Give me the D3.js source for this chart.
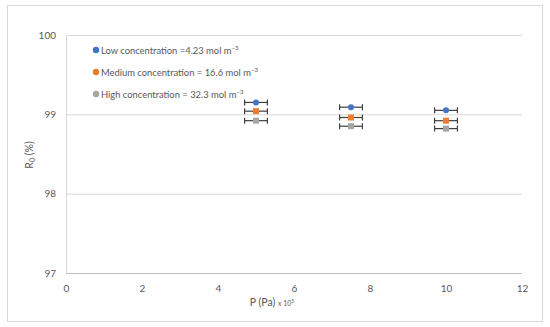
<!DOCTYPE html>
<html><head><meta charset="utf-8">
<script src="https://cdn.jsdelivr.net/npm/d3@7/dist/d3.min.js"></script>
<style>body{margin:0;background:#fff}svg{display:block}</style>
</head><body>
<svg id="c" width="550" height="327"></svg>
<script>
const pressures = [5, 7.5, 10];
const lowValues = [99.15, 99.09, 99.05];
const mediumValues = [99.04, 98.96, 98.92];
const highValues = [98.92, 98.85, 98.82];
const xErr = 0.3;
const seriesNames = ["Low concentration =4.23 mol m", "Medium concentration = 16.6 mol m", "High concentration = 32.3 mol m"];
const xTicks = [0, 2, 4, 6, 8, 10, 12];
const yTicks = [97, 98, 99, 100];

const series = [
  {name: seriesNames[0], values: lowValues, color: "#4472C4", shape: "circle"},
  {name: seriesNames[1], values: mediumValues, color: "#ED7D31", shape: "square"},
  {name: seriesNames[2], values: highValues, color: "#A5A5A5", shape: "square"}
];

const svg = d3.select("#c");
const font = "Lato, 'Open Sans', sans-serif";
svg.append("rect").attr("x", 7.5).attr("y", 5.5).attr("width", 535).attr("height", 316)
  .attr("fill", "#fff").attr("stroke", "#d9d9d9");

const x = d3.scaleLinear().domain([0, 12]).range([66, 522]);
const y = d3.scaleLinear().domain([97, 100]).range([273, 35]);

svg.append("g").selectAll("line").data(yTicks.filter(d => d !== 97)).join("line")
  .attr("x1", x(0)).attr("x2", x(12)).attr("y1", d => y(d) + 0.5).attr("y2", d => y(d) + 0.5)
  .attr("stroke", "#d9d9d9");
svg.append("line").attr("x1", x(0)).attr("x2", x(12)).attr("y1", y(97) + 0.5).attr("y2", y(97) + 0.5).attr("stroke", "#bfbfbf");
svg.append("line").attr("x1", x(0) + 0.5).attr("x2", x(0) + 0.5).attr("y1", y(100)).attr("y2", y(97)).attr("stroke", "#d9d9d9");

const xAxis = d3.axisBottom(x).tickValues(xTicks).tickFormat(d3.format("d")).tickSize(0).tickPadding(12);
const gx = svg.append("g").attr("transform", `translate(0,${y(97)})`).call(xAxis);
gx.select(".domain").remove();
gx.selectAll("text").attr("fill", "#595959").attr("font-size", 10).attr("font-family", font);

const yAxis = d3.axisLeft(y).tickValues(yTicks).tickFormat(d3.format("d")).tickSize(0).tickPadding(10);
const gy = svg.append("g").attr("transform", `translate(${x(0)},0)`).call(yAxis);
gy.select(".domain").remove();
gy.selectAll("text").attr("fill", "#595959").attr("font-size", 10).attr("font-family", font);

const xt = svg.append("text").attr("x", 272).attr("y", 306).attr("text-anchor", "middle")
  .attr("fill", "#595959").attr("font-family", font).attr("font-size", 10.5);
xt.append("tspan").text("P (Pa) ");
xt.append("tspan").attr("font-size", 7).text("x 10");
xt.append("tspan").attr("font-size", 5).attr("dy", -3).text("5");

const yt = svg.append("text").attr("transform", "translate(33,155) rotate(-90)").attr("text-anchor", "middle")
  .attr("fill", "#595959").attr("font-family", font).attr("font-size", 10.5);
yt.append("tspan").text("R");
yt.append("tspan").attr("font-size", 7).attr("dy", 2).text("0");
yt.append("tspan").attr("dy", -2).text(" (%)");

series.forEach(s => {
  const g = svg.append("g");
  const pts = pressures.map((p, i) => ({p, v: s.values[i]}));
  g.selectAll("line.h").data(pts).join("line").attr("class", "h")
    .attr("x1", d => x(d.p - xErr)).attr("x2", d => x(d.p + xErr))
    .attr("y1", d => y(d.v)).attr("y2", d => y(d.v)).attr("stroke", "#404040").attr("stroke-width", 1.2);
  [-xErr, xErr].forEach(o => {
    g.selectAll(null).data(pts).join("line")
      .attr("x1", d => x(d.p + o)).attr("x2", d => x(d.p + o))
      .attr("y1", d => y(d.v) - 3).attr("y2", d => y(d.v) + 3).attr("stroke", "#404040").attr("stroke-width", 1.2);
  });
  if (s.shape === "circle") {
    g.selectAll("circle").data(pts).join("circle").attr("cx", d => x(d.p)).attr("cy", d => y(d.v)).attr("r", 3)
      .attr("fill", s.color);
  } else {
    g.selectAll("rect").data(pts).join("rect").attr("x", d => x(d.p) - 3).attr("y", d => y(d.v) - 3)
      .attr("width", 6).attr("height", 6).attr("fill", s.color);
  }
});

const lg = svg.append("g");
series.forEach((s, i) => {
  const ly = 50 + i * 22;
  lg.append("circle").attr("cx", 96).attr("cy", ly).attr("r", 3.2).attr("fill", s.color);
  const t = lg.append("text").attr("x", 101).attr("y", ly + 3.5).attr("fill", "#595959")
    .attr("font-family", font).attr("font-size", 9.4);
  t.append("tspan").text(s.name);
  t.append("tspan").attr("font-size", 6).attr("dy", -4).text("−3");
});
</script>
</body></html>
